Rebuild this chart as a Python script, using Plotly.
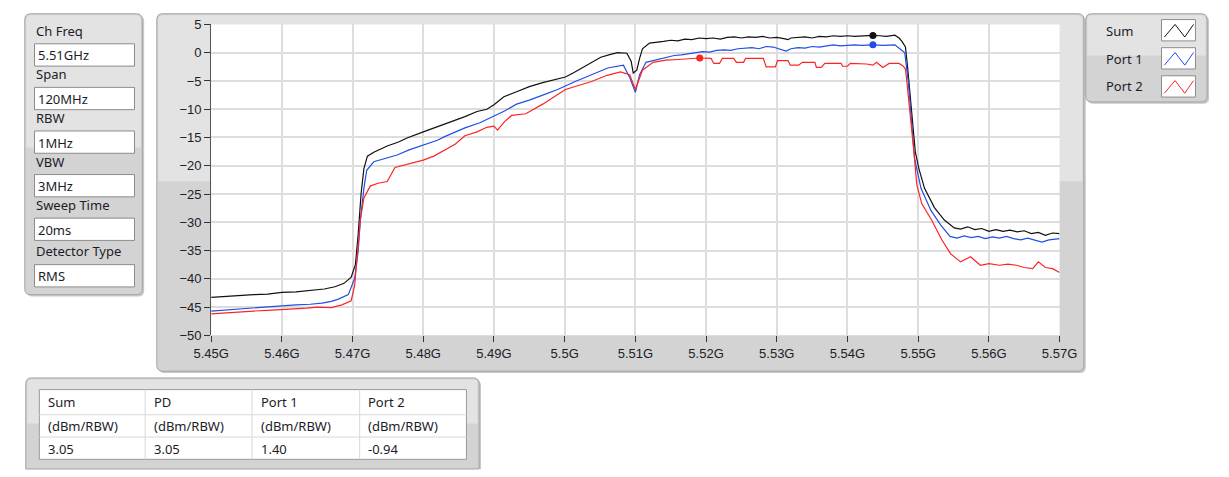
import plotly.graph_objects as go

W, H = 1229, 477

# ---------------- data ----------------
sum_f = [5.4500, 5.4520, 5.4540, 5.4560, 5.4580, 5.4600, 5.4620, 5.4640, 5.4660, 5.4675,
         5.4688, 5.4698, 5.4704, 5.4708, 5.4712, 5.4716, 5.4721, 5.4730, 5.4749, 5.4765,
         5.4777, 5.4800, 5.4815, 5.4831, 5.4845, 5.4859, 5.4876, 5.4890, 5.4900, 5.4914,
         5.4932, 5.4950, 5.4969, 5.5001, 5.5012, 5.5024, 5.5040, 5.5051, 5.5065, 5.5075,
         5.5088, 5.5094, 5.5097, 5.5102, 5.5106, 5.5110, 5.5120, 5.5130, 5.5140, 5.5150,
         5.5160, 5.5170, 5.5180, 5.5190, 5.5200, 5.5210, 5.5220, 5.5230, 5.5240, 5.5250,
         5.5260, 5.5270, 5.5280, 5.5290, 5.5300, 5.5310, 5.5316, 5.5320, 5.5330, 5.5340,
         5.5350, 5.5360, 5.5370, 5.5380, 5.5390, 5.5400, 5.5410, 5.5420, 5.5430, 5.5436,
         5.5445, 5.5455, 5.5467, 5.5473, 5.5477, 5.5482, 5.5485, 5.5487, 5.5491, 5.5496,
         5.5501, 5.5509, 5.5523, 5.5537, 5.5551, 5.5560, 5.5570, 5.5580, 5.5590, 5.5600,
         5.5610, 5.5620, 5.5630, 5.5640, 5.5650, 5.5660, 5.5670, 5.5680, 5.5690, 5.5700]
sum_db = [-43.3, -43.1, -43.0, -42.8, -42.7, -42.4, -42.3, -42.0, -41.8, -41.4,
          -40.8, -39.7, -37.5, -32.0, -25.0, -20.5, -18.3, -17.6, -16.5, -15.8,
          -15.1, -14.0, -13.3, -12.6, -12.0, -11.3, -10.4, -10.0, -9.2, -7.8,
          -6.9, -6.0, -5.3, -4.3, -3.6, -2.7, -1.6, -0.8, -0.3, 0.0,
          -0.1, -1.5, -3.6, -3.1, -1.0, 0.7, 1.7, 1.8, 2.0, 2.2,
          2.1, 2.4, 2.3, 2.6, 2.5, 2.6, 2.4, 2.7, 2.8, 2.6,
          2.8, 2.7, 2.9, 2.6, 2.7, 2.5, 2.3, 2.6, 2.7, 2.8,
          2.6, 2.9, 2.8, 3.0, 2.9, 3.0, 2.9, 3.0, 3.1, 3.05,
          3.0, 2.9, 3.1, 2.6, 2.0, 1.0, -2.5, -5.1, -10.8, -17.6,
          -20.5, -24.0, -27.4, -29.6, -31.0, -31.2, -30.8, -31.3, -31.1, -31.6,
          -31.3, -31.6, -31.4, -31.7, -31.5, -32.0, -31.8, -32.3, -31.9, -32.0]

p1_f = [5.4500, 5.4520, 5.4540, 5.4560, 5.4580, 5.4600, 5.4620, 5.4640, 5.4657, 5.4670,
        5.4680, 5.4694, 5.4703, 5.4708, 5.4711, 5.4716, 5.4720, 5.4730, 5.4749, 5.4763,
        5.4780, 5.4800, 5.4820, 5.4831, 5.4845, 5.4859, 5.4880, 5.4900, 5.4915, 5.4932,
        5.4950, 5.4969, 5.4990, 5.5015, 5.5040, 5.5061, 5.5083, 5.5092, 5.5100, 5.5106,
        5.5115, 5.5125, 5.5135, 5.5145, 5.5155, 5.5165, 5.5175, 5.5185, 5.5195, 5.5205,
        5.5215, 5.5225, 5.5235, 5.5245, 5.5255, 5.5265, 5.5275, 5.5285, 5.5295, 5.5305,
        5.5313, 5.5320, 5.5330, 5.5340, 5.5350, 5.5360, 5.5370, 5.5380, 5.5390, 5.5400,
        5.5410, 5.5420, 5.5430, 5.5436, 5.5450, 5.5460, 5.5467, 5.5475, 5.5481, 5.5486,
        5.5490, 5.5495, 5.5504, 5.5518, 5.5532, 5.5545, 5.5555, 5.5565, 5.5575, 5.5585,
        5.5595, 5.5605, 5.5615, 5.5625, 5.5635, 5.5645, 5.5655, 5.5665, 5.5675, 5.5685,
        5.5700]
p1_db = [-45.7, -45.5, -45.3, -45.1, -45.0, -44.7, -44.6, -44.5, -44.3, -44.0,
         -43.6, -42.8, -39.9, -35.0, -29.6, -24.0, -20.8, -19.3, -18.6, -18.1,
         -17.2, -16.4, -15.5, -14.8, -14.1, -13.3, -12.4, -11.2, -10.3, -9.1,
         -8.4, -7.5, -6.5, -5.1, -3.8, -2.7, -2.2, -4.4, -7.0, -3.9,
         -1.7, -1.4, -1.0, -0.8, -0.5, -0.4, -0.2, -0.1, 0.2, 0.1,
         0.4, 0.5, 0.4, 0.7, 0.8, 0.9, 0.7, 1.1, 1.0, 0.6,
         0.3, 0.7, 0.9, 0.8, 1.1, 1.0, 1.2, 1.4, 1.2, 1.3,
         1.4, 1.3, 1.4, 1.4, 1.3, 1.4, 1.4, 0.6, 0.0, -5.1,
         -11.9, -18.8, -24.0, -27.9, -30.5, -32.5, -32.8, -32.4, -32.7, -32.5,
         -32.9, -32.6, -32.8, -32.5, -32.9, -33.1, -32.8, -33.2, -33.5, -33.1,
         -32.9]

p2_f = [5.4500, 5.4520, 5.4540, 5.4560, 5.4580, 5.4600, 5.4620, 5.4635, 5.4650, 5.4670,
        5.4685, 5.4698, 5.4703, 5.4707, 5.4711, 5.4716, 5.4725, 5.4736, 5.4749, 5.4760,
        5.4775, 5.4800, 5.4815, 5.4831, 5.4845, 5.4859, 5.4876, 5.4890, 5.4900, 5.4905,
        5.4915, 5.4925, 5.4945, 5.4969, 5.5001, 5.5038, 5.5060, 5.5079, 5.5092, 5.5100,
        5.5110, 5.5125, 5.5143, 5.5160, 5.5175, 5.5191, 5.5207, 5.5211, 5.5219, 5.5223,
        5.5239, 5.5243, 5.5253, 5.5256, 5.5281, 5.5285, 5.5298, 5.5301, 5.5316, 5.5319,
        5.5331, 5.5336, 5.5354, 5.5356, 5.5363, 5.5368, 5.5391, 5.5393, 5.5400, 5.5404,
        5.5427, 5.5436, 5.5441, 5.5450, 5.5459, 5.5473, 5.5479, 5.5482, 5.5484,
        5.5489, 5.5494, 5.5498, 5.5505, 5.5519, 5.5533, 5.5546, 5.5560, 5.5574, 5.5588,
        5.5600, 5.5615, 5.5627, 5.5639, 5.5650, 5.5662, 5.5670, 5.5680, 5.5690, 5.5700]
p2_db = [-46.2, -46.0, -45.9, -45.7, -45.6, -45.5, -45.4, -45.2, -45.0, -45.1,
         -44.6, -43.9, -41.1, -35.3, -29.6, -25.7, -23.6, -23.1, -22.8, -20.3,
         -19.8, -19.0, -18.3, -17.1, -16.2, -14.7, -14.0, -13.2, -13.0, -13.7,
         -12.2, -11.1, -10.8, -9.1, -6.5, -5.1, -4.0, -3.4, -3.9, -6.5,
         -3.1, -1.7, -1.3, -1.2, -1.1, -0.94, -1.0, -1.9, -1.9, -1.0,
         -1.0, -1.7, -1.7, -1.0, -1.0, -2.5, -2.5, -1.4, -1.4, -2.2,
         -2.2, -1.7, -1.7, -2.6, -2.6, -1.9, -1.9, -2.4, -2.4, -1.9,
         -2.0, -2.2, -1.7, -2.6, -1.9, -1.9, -2.4, -2.9, -5.1,
         -10.8, -17.6, -23.3, -26.7, -29.6, -33.0, -35.6, -37.0, -36.1, -37.6,
         -37.3, -37.6, -37.4, -37.6, -38.0, -38.2, -37.0, -38.0, -38.2, -38.9]

marker_f = [5.5436, 5.5436, 5.5191]
marker_db = [3.05, 1.40, -0.94]

series_names = ["Sum", "Port 1", "Port 2"]
series_colors = ["#111111", "#1f4fe6", "#ff2424"]

x_tickvals = [5.45, 5.46, 5.47, 5.48, 5.49, 5.50, 5.51, 5.52, 5.53, 5.54, 5.55, 5.56, 5.57]
x_ticktext = ["5.45G", "5.46G", "5.47G", "5.48G", "5.49G", "5.5G", "5.51G", "5.52G",
              "5.53G", "5.54G", "5.55G", "5.56G", "5.57G"]
y_tickvals = [5, 0, -5, -10, -15, -20, -25, -30, -35, -40, -45, -50]

settings_labels = ["Ch Freq", "Span", "RBW", "VBW", "Sweep Time", "Detector Type"]
settings_values = ["5.51GHz", "120MHz", "1MHz", "3MHz", "20ms", "RMS"]

table_headers = ["Sum", "PD", "Port 1", "Port 2"]
table_units = ["(dBm/RBW)", "(dBm/RBW)", "(dBm/RBW)", "(dBm/RBW)"]
table_values = ["3.05", "3.05", "1.40", "-0.94"]

# ---------------- helpers ----------------
def X(px):
    return px / W

def Y(py):
    return 1 - py / H

TXT = "#1c1c28"
UIFONT = "Noto Sans, Segoe UI, DejaVu Sans, sans-serif"
AXFONT = "Liberation Sans Narrow, Liberation Sans, Arial, sans-serif"

shapes = []
annos = []

def rrect_path(x0, y0, x1, y1, r, open_bottom=False):
    if open_bottom:
        return (f"M {X(x0)} {Y(y1)} L {X(x0)} {Y(y0 + r)} Q {X(x0)} {Y(y0)} {X(x0 + r)} {Y(y0)} "
                f"L {X(x1 - r)} {Y(y0)} Q {X(x1)} {Y(y0)} {X(x1)} {Y(y0 + r)} L {X(x1)} {Y(y1)} Z")
    return (f"M {X(x0 + r)} {Y(y0)} L {X(x1 - r)} {Y(y0)} Q {X(x1)} {Y(y0)} {X(x1)} {Y(y0 + r)} "
            f"L {X(x1)} {Y(y1 - r)} Q {X(x1)} {Y(y1)} {X(x1 - r)} {Y(y1)} "
            f"L {X(x0 + r)} {Y(y1)} Q {X(x0)} {Y(y1)} {X(x0)} {Y(y1 - r)} "
            f"L {X(x0)} {Y(y0 + r)} Q {X(x0)} {Y(y0)} {X(x0 + r)} {Y(y0)} Z")

def toprounded_path(x0, y0, x1, y1, r):
    return (f"M {X(x0 + r)} {Y(y0)} L {X(x1 - r)} {Y(y0)} Q {X(x1)} {Y(y0)} {X(x1)} {Y(y0 + r)} "
            f"L {X(x1)} {Y(y1)} L {X(x0)} {Y(y1)} L {X(x0)} {Y(y0 + r)} "
            f"Q {X(x0)} {Y(y0)} {X(x0 + r)} {Y(y0)} Z")

def rect(x0, y0, x1, y1, fill, line=None, lw=1):
    shapes.append(dict(type="rect", xref="paper", yref="paper", layer="below",
                       x0=X(x0), x1=X(x1), y0=Y(y1), y1=Y(y0), fillcolor=fill,
                       line=dict(color=line if line else fill, width=lw if line else 0)))

def panel(x0, y0, x1, y1, split, open_bottom=False):
    shapes.append(dict(type="path", xref="paper", yref="paper", layer="below",
                       path=rrect_path(x0 + 2, y0 + 2, x1 + 2, y1 if open_bottom else y1 + 2, 6, open_bottom),
                       fillcolor="#c8c8c8", line=dict(width=0)))
    shapes.append(dict(type="path", xref="paper", yref="paper", layer="below",
                       path=rrect_path(x0, y0, x1, y1, 6, open_bottom),
                       fillcolor="#d3d3d3", line=dict(color="#a3a3a3", width=1)))
    shapes.append(dict(type="path", xref="paper", yref="paper", layer="below",
                       path=toprounded_path(x0 + 1.5, y0 + 1.5, x1 - 1.5, split, 5),
                       fillcolor="#e3e3e3", line=dict(width=0)))

def text(px, py, s, size=13, anchor="left", font=UIFONT):
    annos.append(dict(x=X(px), y=Y(py), xref="paper", yref="paper", text=s, showarrow=False,
                      xanchor=anchor, yanchor="middle", font=dict(family=font, size=size, color=TXT)))

# ---------------- panels ----------------
panel(7, 7, 128, 297, 145)
box_tops = [38, 83, 128, 173, 218, 266]
label_ys = [25, 69, 115, 160, 204, 252]
for lab, val, ly, bt in zip(settings_labels, settings_values, label_ys, box_tops):
    text(16, ly, lab)
    rect(17, bt, 120, bt + 23, "#ffffff", "#8c8c8c", 1)
    text(19, bt + 12, val)

panel(143, 7, 1098, 376, 180)
PX0, PX1, PY0, PY1 = 199, 1073, 18, 339
rect(PX0, PY0, PX1, PY1, "#ffffff")

panel(1100, 7, 1225, 98, 50)
sw_tops = [13, 42, 71]
leg_ys = [25, 54, 82]
for name, col, st, ly in zip(series_names, series_colors, sw_tops, leg_ys):
    text(1119, ly, name)
    rect(1178, st, 1213, st + 22, "#ffffff", "#8c8c8c", 1)
    zig = (f"M {X(1181)} {Y(st + 18)} L {X(1192)} {Y(st + 5)} L {X(1202)} {Y(st + 18)} "
           f"L {X(1211)} {Y(st + 5)}")
    shapes.append(dict(type="path", xref="paper", yref="paper", layer="above", path=zig,
                       line=dict(color=col, width=1)))

panel(8, 383, 475, 477, 430, open_bottom=True)
rect(22, 395, 462, 467, "#ffffff", "#9a9a9a", 1)
col_x = [22, 131, 241, 352, 462]
for cx in col_x[1:-1]:
    shapes.append(dict(type="line", xref="paper", yref="paper", layer="below",
                       x0=X(cx), x1=X(cx), y0=Y(395), y1=Y(467), line=dict(color="#d8d8d8", width=1)))
for ry in [421, 444]:
    shapes.append(dict(type="line", xref="paper", yref="paper", layer="below",
                       x0=X(22), x1=X(462), y0=Y(ry), y1=Y(ry), line=dict(color="#d8d8d8", width=1)))
for i in range(4):
    text(col_x[i] + 7, 408, table_headers[i])
    text(col_x[i] + 7, 433, table_units[i])
    text(col_x[i] + 7, 456, table_values[i])

# ---------------- traces ----------------
fig = go.Figure()
for f, v, name, col in zip([sum_f, p1_f, p2_f], [sum_db, p1_db, p2_db], series_names, series_colors):
    fig.add_trace(go.Scatter(x=f, y=v, mode="lines", name=name,
                             line=dict(color=col, width=1.2), showlegend=False))
fig.add_trace(go.Scatter(x=marker_f, y=marker_db, mode="markers", showlegend=False,
                         marker=dict(color=series_colors, size=7)))

fig.update_layout(
    width=W, height=H,
    margin=dict(l=0, r=0, t=0, b=0),
    paper_bgcolor="#ffffff",
    plot_bgcolor="rgba(0,0,0,0)",
    shapes=shapes,
    annotations=annos,
    showlegend=False,
    xaxis=dict(domain=[X(PX0), X(PX1)], range=[5.45, 5.57], tickmode="array",
               tickvals=x_tickvals, ticktext=x_ticktext, showgrid=True, gridcolor="#dddddd",
               gridwidth=1.5, zeroline=False, ticks="outside", ticklen=6, tickcolor="#333333",
               showline=False, tickfont=dict(family=AXFONT, size=13, color=TXT)),
    yaxis=dict(domain=[Y(PY1), Y(PY0)], range=[-50, 5], tickmode="array",
               tickvals=y_tickvals, showgrid=True, gridcolor="#dddddd", gridwidth=1.5,
               zeroline=False, ticks="outside", ticklen=6, tickcolor="#333333",
               showline=True, linecolor="#555555", linewidth=1,
               tickfont=dict(family=AXFONT, size=13, color=TXT)),
)

post = ("document.documentElement.style.margin='0';document.documentElement.style.padding='0';"
        "document.body.style.margin='0';document.body.style.padding='0';"
        "document.documentElement.style.overflow='hidden';document.body.style.overflow='hidden';"
        "var d=document.getElementById('{plot_id}');d.style.position='fixed';"
        "d.style.left='0px';d.style.top='0px';")
fig.write_html("out.html", post_script=post, config={"displayModeBar": False})
